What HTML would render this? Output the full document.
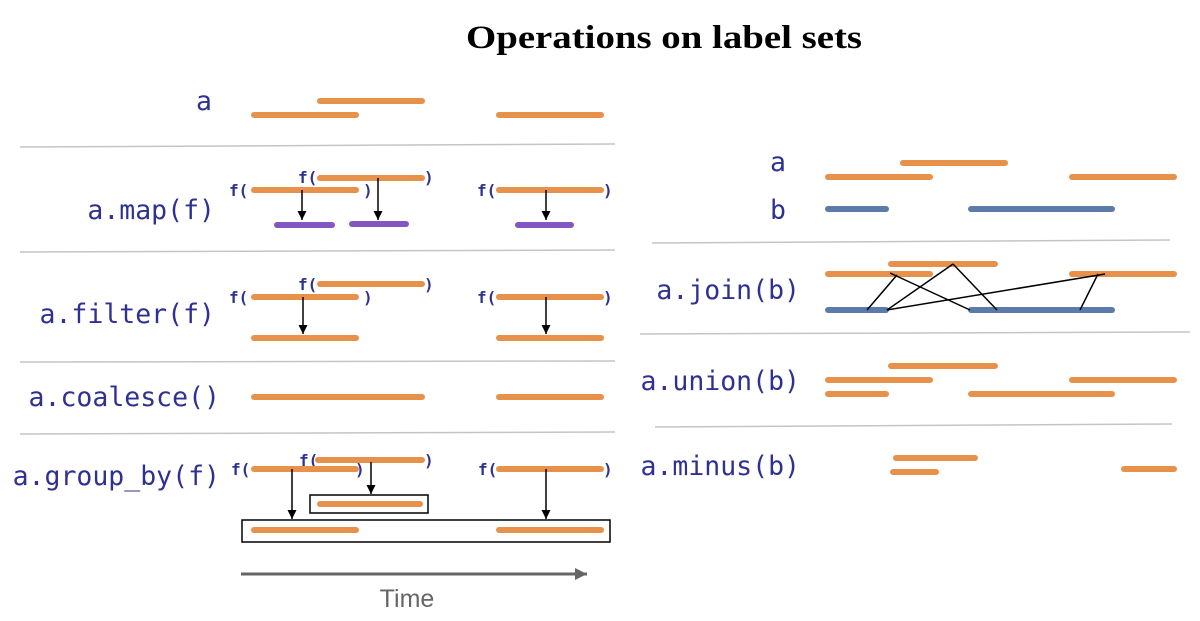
<!DOCTYPE html>
<html><head><meta charset="utf-8"><style>
html,body{margin:0;padding:0;background:#fff;width:1200px;height:621px;overflow:hidden}
svg{display:block}
.o{stroke:#E8914A;stroke-width:6;stroke-linecap:round}
.b{stroke:#5B7BA8;stroke-width:6;stroke-linecap:round}
.p{stroke:#8356C2;stroke-width:6;stroke-linecap:round}
.s{stroke:#c4c4c4;stroke-width:1.5}
.k{stroke:#000;stroke-width:1.5}
.lb{font-family:"DejaVu Sans Mono","Liberation Mono",monospace;font-size:26.5px;fill:#2E3192}
.f{font-family:"DejaVu Sans Mono","Liberation Mono",monospace;font-size:16px;fill:#2E3192;font-weight:bold}
</style></head><body>
<svg width="1200" height="621" viewBox="0 0 1200 621">
<defs><marker id="ar" viewBox="0 0 10 10" refX="10" refY="5" markerWidth="9" markerHeight="12" markerUnits="userSpaceOnUse" orient="auto"><path d="M0,0L10,5L0,10z" fill="#000"/></marker>
<marker id="ag" viewBox="0 0 10 10" refX="10" refY="5" markerWidth="14" markerHeight="12" markerUnits="userSpaceOnUse" orient="auto"><path d="M0,0L10,5L0,10z" fill="#666"/></marker></defs>
<text x="466" y="48" textLength="396" lengthAdjust="spacingAndGlyphs" font-family="Liberation Serif,serif" font-weight="bold" font-size="33" fill="#000">Operations on label sets</text>

<line class="s" x1="20" y1="147" x2="615" y2="144"/>
<line class="s" x1="20" y1="252" x2="615" y2="250"/>
<line class="s" x1="20" y1="362" x2="615" y2="361"/>
<line class="s" x1="20" y1="434" x2="615" y2="432"/>

<text class="lb" x="212" y="110" text-anchor="end">a</text>
<line class="o" x1="320" y1="101" x2="422" y2="101"/>
<line class="o" x1="254" y1="115" x2="356" y2="115"/>
<line class="o" x1="499" y1="115" x2="601" y2="115"/>

<text class="lb" x="215" y="219" text-anchor="end">a.map(f)</text>
<text class="f" x="229" y="196">f(</text><text class="f" x="298" y="183">f(</text><text class="f" x="477" y="196">f(</text>
<text class="f" x="363" y="196">)</text><text class="f" x="424" y="183">)</text><text class="f" x="603" y="196">)</text>
<line class="o" x1="320" y1="178" x2="422" y2="178"/>
<line class="o" x1="254" y1="190" x2="356" y2="190"/>
<line class="o" x1="499" y1="190" x2="601" y2="190"/>
<line class="k" x1="302" y1="190" x2="302" y2="220" marker-end="url(#ar)"/>
<line class="k" x1="378" y1="178" x2="378" y2="220" marker-end="url(#ar)"/>
<line class="k" x1="546" y1="190" x2="546" y2="220" marker-end="url(#ar)"/>
<line class="p" x1="277" y1="225" x2="332" y2="225"/>
<line class="p" x1="352" y1="224" x2="406" y2="224"/>
<line class="p" x1="518" y1="225" x2="571" y2="225"/>

<text class="lb" x="215" y="323" text-anchor="end">a.filter(f)</text>
<text class="f" x="229" y="303">f(</text><text class="f" x="298" y="290">f(</text><text class="f" x="477" y="303">f(</text>
<text class="f" x="363" y="303">)</text><text class="f" x="424" y="290">)</text><text class="f" x="603" y="303">)</text>
<line class="o" x1="320" y1="284" x2="422" y2="284"/>
<line class="o" x1="254" y1="297" x2="356" y2="297"/>
<line class="o" x1="499" y1="297" x2="601" y2="297"/>
<line class="k" x1="303" y1="297" x2="303" y2="334" marker-end="url(#ar)"/>
<line class="k" x1="546" y1="297" x2="546" y2="334" marker-end="url(#ar)"/>
<line class="o" x1="254" y1="338" x2="356" y2="338"/>
<line class="o" x1="499" y1="338" x2="601" y2="338"/>

<text class="lb" x="220" y="406" text-anchor="end">a.coalesce()</text>
<line class="o" x1="254" y1="397" x2="422" y2="397"/>
<line class="o" x1="499" y1="397" x2="601" y2="397"/>

<text class="lb" x="220" y="485" text-anchor="end">a.group_by(f)</text>
<text class="f" x="231" y="475">f(</text><text class="f" x="299" y="466">f(</text><text class="f" x="478" y="475">f(</text>
<text class="f" x="355" y="475">)</text><text class="f" x="424" y="466">)</text><text class="f" x="603" y="475">)</text>
<line class="o" x1="318" y1="460" x2="422" y2="460"/>
<line class="o" x1="254" y1="469" x2="356" y2="469"/>
<line class="o" x1="499" y1="469" x2="601" y2="469"/>
<line class="k" x1="292" y1="469" x2="292" y2="519" marker-end="url(#ar)"/>
<line class="k" x1="371" y1="462" x2="371" y2="494" marker-end="url(#ar)"/>
<line class="k" x1="546" y1="469" x2="546" y2="519" marker-end="url(#ar)"/>
<rect x="310" y="495" width="118" height="18" fill="none" stroke="#000" stroke-width="1.5"/>
<line class="o" x1="320" y1="504" x2="420" y2="504"/>
<rect x="242" y="520" width="368" height="22" fill="none" stroke="#000" stroke-width="1.5"/>
<line class="o" x1="254" y1="530" x2="356" y2="530"/>
<line class="o" x1="499" y1="530" x2="601" y2="530"/>

<line x1="241" y1="574" x2="587" y2="574" stroke="#666" stroke-width="3" marker-end="url(#ag)"/>
<text x="407" y="607" text-anchor="middle" font-family="Liberation Sans,sans-serif" font-size="25" fill="#666">Time</text>

<text class="lb" x="778" y="171" text-anchor="middle">a</text>
<text class="lb" x="778" y="219" text-anchor="middle">b</text>
<line class="o" x1="903" y1="163" x2="1005" y2="163"/>
<line class="o" x1="828" y1="177" x2="930" y2="177"/>
<line class="o" x1="1072" y1="177" x2="1174" y2="177"/>
<line class="b" x1="828" y1="209" x2="886" y2="209"/>
<line class="b" x1="971" y1="209" x2="1112" y2="209"/>

<line class="s" x1="652" y1="243" x2="1170" y2="240"/>
<line class="s" x1="640" y1="334" x2="1190" y2="332"/>
<line class="s" x1="655" y1="427" x2="1172" y2="424"/>

<text class="lb" x="800" y="299" text-anchor="end">a.join(b)</text>
<line class="o" x1="891" y1="264" x2="995" y2="264"/>
<line class="o" x1="828" y1="274" x2="930" y2="274"/>
<line class="o" x1="1072" y1="274" x2="1174" y2="274"/>
<line class="b" x1="828" y1="310" x2="886" y2="310"/>
<line class="b" x1="971" y1="310" x2="1112" y2="310"/>
<g stroke="#000" stroke-width="1.5">
<line x1="897" y1="275" x2="867" y2="310"/>
<line x1="890" y1="273" x2="970" y2="310"/>
<line x1="953" y1="264" x2="887" y2="310"/>
<line x1="953" y1="264" x2="997" y2="310"/>
<line x1="887" y1="310" x2="1105" y2="274"/>
<line x1="1098" y1="274" x2="1080" y2="310"/>
</g>

<text class="lb" x="800" y="390" text-anchor="end">a.union(b)</text>
<line class="o" x1="891" y1="366" x2="995" y2="366"/>
<line class="o" x1="828" y1="380" x2="930" y2="380"/>
<line class="o" x1="1072" y1="380" x2="1174" y2="380"/>
<line class="o" x1="828" y1="394" x2="886" y2="394"/>
<line class="o" x1="971" y1="394" x2="1112" y2="394"/>

<text class="lb" x="800" y="475" text-anchor="end">a.minus(b)</text>
<line class="o" x1="896" y1="458" x2="975" y2="458"/>
<line class="o" x1="893" y1="472" x2="936" y2="472"/>
<line class="o" x1="1124" y1="469" x2="1174" y2="469"/>
</svg>
</body></html>
